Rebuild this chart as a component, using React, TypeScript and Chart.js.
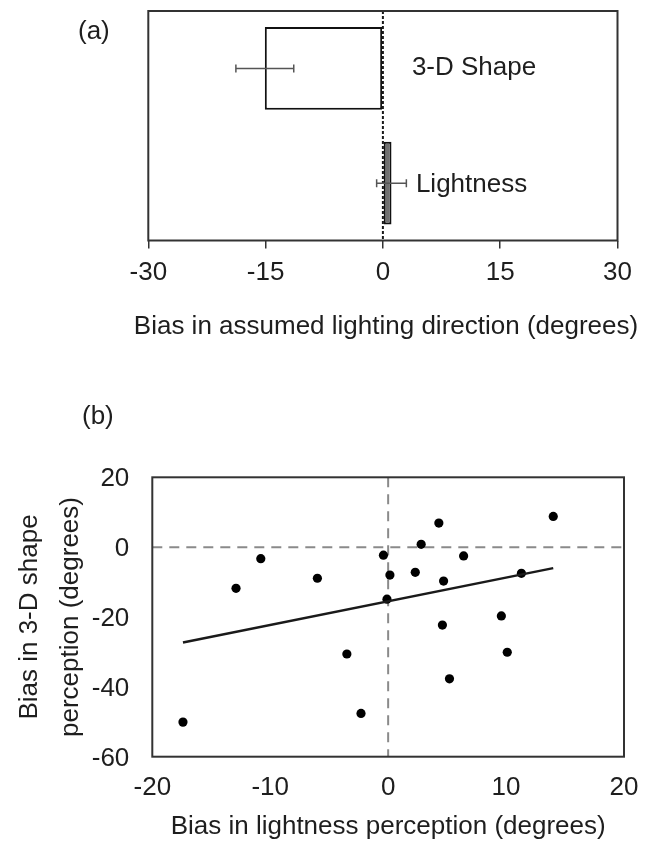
import React, { useEffect, useRef } from 'react';
import { Chart, registerables } from 'chart.js';

Chart.register(...registerables);

const FONT = '"Liberation Sans", Arial, Helvetica, sans-serif';
const TEXT = '#1e1e1e';
const FRAME = '#333333';

// ---------- Panel (a) data ----------
const barCategories = ['3-D Shape', 'Lightness'];
const barValues = [-15.1, 1.1];
const barErrors = [3.7, 1.9];
const barFills = ['#ffffff', '#707070'];
const axisTitleA = 'Bias in assumed lighting direction (degrees)';

// ---------- Panel (b) data ----------
const lightnessBias = [
  -17.4, -12.9, -10.8, -6.0, -3.5, -2.3, -0.4, 0.15, -0.1, 2.3,
  2.8, 4.3, 4.7, 4.6, 5.2, 6.4, 9.6, 10.1, 11.3, 14.0,
];
const shapeBias = [
  -50.1, -11.8, -3.3, -8.9, -30.6, -47.6, -2.3, -8.0, -14.9, -7.2,
  0.8, 6.9, -9.7, -22.3, -37.7, -2.5, -19.7, -30.1, -7.5, 8.8,
];
const trendX = [-17.4, 14.0];
const trendY = [-27.3, -6.0];
const axisTitleBX = 'Bias in lightness perception (degrees)';
const axisTitleBY = ['Bias in 3-D shape', 'perception (degrees)'];

const W = 657;
const HA = 360;
const HB = 486;

const tickFont = { family: FONT, size: 26, lineHeight: 1.2 };

function drawFrame(chart: any) {
  const { ctx, chartArea: ca } = chart;
  ctx.save();
  ctx.strokeStyle = FRAME;
  ctx.lineWidth = 2;
  ctx.setLineDash([]);
  ctx.strokeRect(ca.left, ca.top, ca.right - ca.left, ca.bottom - ca.top);
  ctx.restore();
}

const panelAPlugin = {
  id: 'panelA',
  beforeDatasetsDraw(chart: any) {
    const { ctx, chartArea: ca, scales } = chart;
    const x0 = scales.x.getPixelForValue(0);
    ctx.save();
    ctx.strokeStyle = '#1a1a1a';
    ctx.lineWidth = 2;
    ctx.setLineDash([3, 2]);
    ctx.beginPath();
    ctx.moveTo(x0, ca.top);
    ctx.lineTo(x0, ca.bottom);
    ctx.stroke();
    ctx.restore();
  },
  afterDatasetsDraw(chart: any) {
    const { ctx, scales } = chart;
    const meta = chart.getDatasetMeta(0);
    const x0 = scales.x.getPixelForValue(0);
    ctx.save();
    ctx.strokeStyle = '#555';
    ctx.lineWidth = 1.5;
    meta.data.forEach((bar: any, i: number) => {
      const y = bar.y;
      const xl = scales.x.getPixelForValue(barValues[i] - barErrors[i]);
      const xr = scales.x.getPixelForValue(barValues[i] + barErrors[i]);
      ctx.beginPath();
      ctx.moveTo(xl, y);
      ctx.lineTo(xr, y);
      ctx.moveTo(xl, y - 4);
      ctx.lineTo(xl, y + 4);
      ctx.moveTo(xr, y - 4);
      ctx.lineTo(xr, y + 4);
      ctx.stroke();
    });
    ctx.fillStyle = TEXT;
    ctx.font = `26px ${FONT}`;
    ctx.textAlign = 'left';
    ctx.textBaseline = 'middle';
    const offsets = [29, 33];
    meta.data.forEach((bar: any, i: number) => {
      ctx.fillText(barCategories[i], x0 + offsets[i], bar.y + (i === 0 ? -1 : 2));
    });
    ctx.restore();
  },
  afterDraw(chart: any) {
    drawFrame(chart);
    const { ctx } = chart;
    ctx.save();
    ctx.fillStyle = TEXT;
    ctx.font = `26px ${FONT}`;
    ctx.textBaseline = 'middle';
    ctx.textAlign = 'left';
    ctx.fillText('(a)', 78, 32);
    // axis title (drawn without width clamping)
    ctx.textAlign = 'center';
    ctx.fillText(axisTitleA, 386, 327);
    ctx.restore();
  },
};

const panelBPlugin = {
  id: 'panelB',
  beforeDatasetsDraw(chart: any) {
    const { ctx, chartArea: ca, scales } = chart;
    const x0 = scales.x.getPixelForValue(0);
    const y0 = scales.y.getPixelForValue(0);
    ctx.save();
    ctx.strokeStyle = '#8a8a8a';
    ctx.lineWidth = 2;
    ctx.setLineDash([10, 7]);
    ctx.beginPath();
    ctx.moveTo(ca.left, y0);
    ctx.lineTo(ca.right, y0);
    ctx.moveTo(x0, ca.top);
    ctx.lineTo(x0, ca.bottom);
    ctx.stroke();
    ctx.restore();
  },
  afterDraw(chart: any) {
    drawFrame(chart);
    const { ctx } = chart;
    ctx.save();
    ctx.fillStyle = TEXT;
    ctx.font = `26px ${FONT}`;
    ctx.textAlign = 'left';
    ctx.textBaseline = 'middle';
    ctx.fillText('(b)', 82, 417 - 360);
    ctx.restore();
  },
};

function PanelA() {
  const ref = useRef<HTMLCanvasElement | null>(null);
  useEffect(() => {
    if (!ref.current) return;
    const chart = new Chart(ref.current, {
      type: 'bar',
      data: {
        labels: barCategories,
        datasets: [
          {
            data: barValues,
            backgroundColor: barFills,
            borderColor: '#111',
            borderWidth: 2,
            borderSkipped: false,
            barPercentage: 0.9,
            categoryPercentage: 0.8,
          },
        ],
      },
      options: {
        indexAxis: 'y',
        responsive: false,
        animation: false,
        devicePixelRatio: 1,
        layout: { padding: { top: 11, right: 39.5, left: 148.3, bottom: 0 } },
        plugins: { legend: { display: false }, tooltip: { enabled: false } },
        scales: {
          y: { display: false, type: 'category' },
          x: {
            type: 'linear',
            min: -30,
            max: 30,
            ticks: { stepSize: 15, color: TEXT, font: tickFont, padding: 9 },
            grid: {
              drawOnChartArea: false,
              drawTicks: true,
              tickLength: 8,
              color: FRAME,
              lineWidth: 1.5,
            },
            border: { display: false },
            title: { display: false },
            afterFit: (s: any) => {
              s.height = HA - 240.5;
            },
          },
        },
      },
      plugins: [panelAPlugin],
    } as any);
    return () => chart.destroy();
  }, []);
  return (
    <canvas
      ref={ref}
      width={W}
      height={HA}
      style={{ position: 'absolute', left: 0, top: 0, width: W, height: HA }}
    />
  );
}

function PanelB() {
  const ref = useRef<HTMLCanvasElement | null>(null);
  useEffect(() => {
    if (!ref.current) return;
    const points = lightnessBias.map((x, i) => ({ x, y: shapeBias[i] }));
    const trend = trendX.map((x, i) => ({ x, y: trendY[i] }));
    const chart = new Chart(ref.current, {
      type: 'scatter',
      data: {
        datasets: [
          {
            type: 'line',
            data: trend,
            borderColor: '#1a1a1a',
            borderWidth: 2.5,
            pointRadius: 0,
            fill: false,
          },
          {
            type: 'scatter',
            data: points,
            pointRadius: 4.6,
            pointBackgroundColor: '#000',
            pointBorderColor: '#000',
            pointBorderWidth: 0,
          },
        ],
      },
      options: {
        responsive: false,
        animation: false,
        devicePixelRatio: 1,
        layout: { padding: { top: 117.3, right: 33, left: 0, bottom: 0 } },
        plugins: { legend: { display: false }, tooltip: { enabled: false } },
        scales: {
          x: {
            type: 'linear',
            min: -20,
            max: 20,
            ticks: { stepSize: 10, color: TEXT, font: tickFont, padding: 16 },
            grid: { display: false, drawTicks: false },
            border: { display: false },
            title: {
              display: true,
              text: axisTitleBX,
              color: TEXT,
              font: { family: FONT, size: 26, lineHeight: 1.2 },
              padding: { top: 0, bottom: 4 },
            },
            afterFit: (s: any) => {
              s.height = HB - (756.7 - 360);
            },
          },
          y: {
            type: 'linear',
            min: -60,
            max: 20,
            ticks: { stepSize: 20, color: TEXT, font: tickFont, padding: 23, labelOffset: 2 },
            grid: { display: false, drawTicks: false },
            border: { display: false },
            title: {
              display: true,
              text: axisTitleBY,
              color: TEXT,
              font: { family: FONT, size: 26, lineHeight: 1.577 },
              padding: { top: 9.5, bottom: 0 },
            },
            afterFit: (s: any) => {
              s.width = 152.3;
            },
          },
        },
      },
      plugins: [panelBPlugin],
    } as any);
    return () => chart.destroy();
  }, []);
  return (
    <canvas
      ref={ref}
      width={W}
      height={HB}
      style={{ position: 'absolute', left: 0, top: 360, width: W, height: HB }}
    />
  );
}

export default function App() {
  return (
    <div
      style={{
        position: 'absolute',
        left: 0,
        top: 0,
        width: W,
        height: 846,
        background: '#ffffff',
        overflow: 'hidden',
      }}
    >
      <PanelA />
      <PanelB />
    </div>
  );
}
